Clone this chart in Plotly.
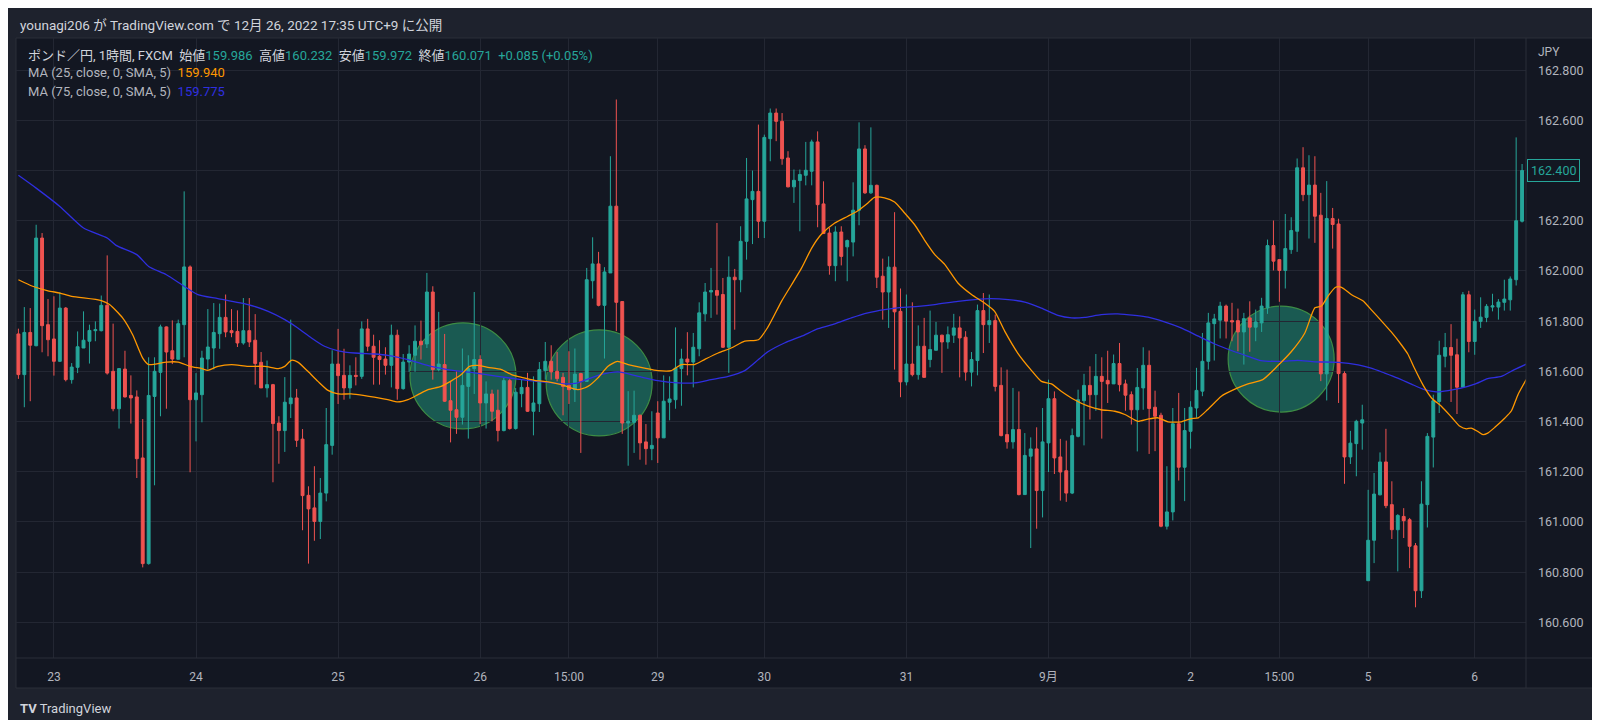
import plotly.graph_objects as go

# GBP/JPY 1h candles, Aug 22 18:00 -> Sep 6 08:00 (JST)
opens = [161.749, 161.587, 161.755, 161.702, 162.131, 161.786, 161.729, 161.640, 161.852, 161.567,
         161.616, 161.693, 161.720, 161.762, 161.762, 161.863, 161.600, 161.451, 161.609, 161.504,
         161.498, 161.255, 160.834, 161.500, 161.596, 161.777, 161.682, 161.648, 161.786, 162.016,
         161.487, 161.507, 161.649, 161.693, 161.750, 161.815, 161.762, 161.759, 161.713, 161.762,
         161.724, 161.636, 161.534, 161.547, 161.394, 161.364, 161.471, 161.494, 161.330, 161.106,
         161.056, 161.002, 161.115, 161.305, 161.629, 161.584, 161.534, 161.584, 161.580, 161.769,
         161.700, 161.660, 161.649, 161.624, 161.744, 161.531, 161.637, 161.664, 161.720, 161.709,
         161.916, 161.607, 161.627, 161.483, 161.447, 161.417, 161.540, 161.611, 161.647, 161.474,
         161.510, 161.445, 161.364, 161.563, 161.372, 161.511, 161.536, 161.441, 161.471, 161.603,
         161.640, 161.600, 161.576, 161.544, 161.527, 161.591, 161.560, 161.961, 162.028, 161.863,
         161.992, 162.258, 161.878, 161.394, 161.397, 161.425, 161.319, 161.292, 161.434, 161.335,
         161.477, 161.487, 161.611, 161.649, 161.637, 161.690, 161.829, 161.916, 161.922, 161.906,
         161.696, 161.975, 161.965, 162.118, 162.284, 162.317, 162.198, 162.527, 162.629, 162.596,
         162.450, 162.335, 162.360, 162.381, 162.397, 162.514, 162.267, 162.151, 162.021, 162.155,
         162.096, 162.115, 162.242, 162.486, 162.311, 162.341, 161.979, 161.916, 162.015, 161.839,
         161.558, 161.629, 161.587, 161.700, 161.647, 161.684, 161.744, 161.717, 161.744, 161.773,
         161.736, 161.597, 161.643, 161.842, 161.786, 161.802, 161.544, 161.348, 161.319, 161.368,
         161.109, 161.262, 161.291, 161.125, 161.315, 161.491, 161.259, 161.204, 161.115, 161.341,
         161.483, 161.544, 161.507, 161.580, 161.564, 161.550, 161.631, 161.550, 161.507, 161.447,
         161.534, 161.624, 161.457, 161.425, 160.983, 161.040, 161.391, 161.218, 161.361, 161.454,
         161.521, 161.640, 161.790, 161.804, 161.860, 161.802, 161.802, 161.757, 161.813, 161.776,
         161.793, 161.853, 162.101, 162.045, 162.002, 162.085, 162.158, 162.411, 162.304, 162.342,
         162.222, 161.590, 162.209, 162.187, 161.591, 161.259, 161.312, 161.394, 160.766, 160.927,
         161.108, 161.239, 161.069, 160.969, 161.022, 161.009, 160.905, 160.726, 161.069, 161.338,
         161.480, 161.660, 161.695, 161.666, 161.537, 161.905, 161.719, 161.799, 161.815, 161.856,
         161.856, 161.875, 161.885, 161.965, 162.198]
highs = [161.770, 161.856, 161.852, 162.184, 162.151, 161.888, 161.899, 161.915, 161.856, 161.633,
         161.759, 161.839, 161.786, 161.799, 161.902, 162.062, 161.790, 161.613, 161.682, 161.584,
         161.524, 161.410, 161.656, 161.656, 161.786, 161.779, 161.803, 161.806, 162.317, 162.022,
         161.593, 161.682, 161.848, 161.872, 161.870, 161.906, 161.848, 161.843, 161.892, 161.892,
         161.828, 161.677, 161.643, 161.550, 161.421, 161.577, 161.806, 161.530, 161.370, 161.142,
         161.222, 161.175, 161.454, 161.684, 161.769, 161.690, 161.624, 161.656, 161.799, 161.809,
         161.746, 161.724, 161.696, 161.786, 161.766, 161.669, 161.704, 161.783, 161.802, 161.992,
         161.939, 161.837, 161.749, 161.560, 161.600, 161.691, 161.664, 161.916, 161.664, 161.560,
         161.527, 161.527, 161.574, 161.571, 161.534, 161.567, 161.594, 161.580, 161.637, 161.717,
         161.704, 161.677, 161.594, 161.680, 161.691, 161.594, 162.012, 162.134, 162.076, 162.015,
         162.457, 162.683, 161.879, 161.521, 161.523, 161.428, 161.390, 161.441, 161.481, 161.584,
         161.580, 161.775, 161.690, 161.756, 161.753, 161.875, 161.952, 162.012, 162.191, 161.972,
         162.058, 162.008, 162.178, 162.450, 162.400, 162.583, 162.543, 162.647, 162.647, 162.629,
         162.477, 162.404, 162.404, 162.514, 162.523, 162.556, 162.357, 162.171, 162.178, 162.178,
         162.125, 162.353, 162.592, 162.501, 162.572, 162.344, 162.049, 162.058, 162.234, 161.930,
         161.906, 161.875, 161.783, 161.813, 161.842, 161.797, 161.746, 161.779, 161.829, 161.819,
         161.760, 161.677, 161.866, 161.912, 161.906, 161.826, 161.616, 161.607, 161.534, 161.520,
         161.354, 161.337, 161.377, 161.454, 161.567, 161.520, 161.331, 161.324, 161.372, 161.527,
         161.590, 161.620, 161.669, 161.656, 161.682, 161.667, 161.713, 161.567, 161.520, 161.613,
         161.696, 161.683, 161.523, 161.435, 161.222, 161.454, 161.514, 161.454, 161.481, 161.614,
         161.753, 161.833, 161.829, 161.877, 161.866, 161.873, 161.850, 161.833, 161.879, 161.846,
         161.893, 162.125, 162.201, 162.045, 162.227, 162.214, 162.448, 162.493, 162.461, 162.457,
         162.311, 162.358, 162.251, 162.208, 161.600, 161.363, 161.407, 161.467, 161.128, 161.195,
         161.277, 161.371, 161.162, 161.031, 161.055, 161.016, 160.916, 161.162, 161.354, 161.507,
         161.722, 161.753, 161.788, 161.730, 161.916, 161.921, 161.846, 161.895, 161.868, 161.909,
         161.888, 161.965, 161.978, 162.532, 162.426]
lows = [161.570, 161.457, 161.481, 161.700, 161.676, 161.660, 161.583, 161.637, 161.560, 161.551,
        161.593, 161.693, 161.631, 161.720, 161.759, 161.587, 161.441, 161.372, 161.496, 161.392,
        161.175, 160.819, 160.830, 161.146, 161.421, 161.451, 161.629, 161.648, 161.656, 161.198,
        161.321, 161.397, 161.607, 161.608, 161.690, 161.736, 161.736, 161.697, 161.706, 161.697,
        161.547, 161.534, 161.496, 161.158, 161.232, 161.279, 161.414, 161.299, 160.967, 160.834,
        160.925, 160.932, 161.082, 161.268, 161.470, 161.487, 161.491, 161.544, 161.570, 161.680,
        161.547, 161.547, 161.587, 161.536, 161.487, 161.527, 161.598, 161.598, 161.647, 161.693,
        161.567, 161.600, 161.478, 161.317, 161.351, 161.388, 161.332, 161.510, 161.390, 161.372,
        161.401, 161.321, 161.361, 161.368, 161.368, 161.457, 161.438, 161.345, 161.438, 161.567,
        161.567, 161.560, 161.425, 161.470, 161.478, 161.275, 161.560, 161.890, 161.859, 161.651,
        161.992, 161.760, 161.351, 161.224, 161.275, 161.248, 161.228, 161.246, 161.235, 161.335,
        161.405, 161.451, 161.463, 161.584, 161.536, 161.660, 161.799, 161.813, 161.826, 161.693,
        161.594, 161.766, 161.915, 162.045, 162.107, 162.131, 162.131, 162.437, 162.517, 162.423,
        162.333, 162.271, 162.158, 162.341, 162.341, 162.174, 162.147, 161.985, 161.959, 162.022,
        161.959, 162.058, 162.182, 162.307, 162.307, 161.932, 161.806, 161.773, 161.607, 161.497,
        161.544, 161.580, 161.567, 161.576, 161.616, 161.684, 161.594, 161.690, 161.713, 161.576,
        161.563, 161.540, 161.584, 161.673, 161.713, 161.520, 161.341, 161.292, 161.292, 161.106,
        161.109, 160.896, 160.973, 161.018, 161.199, 161.191, 161.085, 161.080, 161.111, 161.337,
        161.305, 161.408, 161.443, 161.332, 161.474, 161.550, 161.520, 161.443, 161.388, 161.281,
        161.447, 161.271, 161.282, 160.979, 160.970, 161.006, 161.165, 161.083, 161.292, 161.415,
        161.501, 161.607, 161.643, 161.731, 161.731, 161.720, 161.680, 161.627, 161.678, 161.720,
        161.757, 161.829, 162.002, 161.877, 161.930, 162.068, 162.076, 162.278, 162.129, 162.112,
        161.561, 161.484, 162.089, 161.474, 161.152, 161.231, 161.182, 161.288, 160.766, 160.836,
        161.106, 161.055, 160.932, 160.803, 160.936, 160.816, 160.660, 160.697, 160.978, 161.217,
        161.434, 161.616, 161.478, 161.430, 161.536, 161.676, 161.666, 161.773, 161.796, 161.839,
        161.806, 161.842, 161.842, 161.942, 162.193]
closes = [161.587, 161.755, 161.704, 162.131, 161.782, 161.726, 161.640, 161.852, 161.567, 161.617,
          161.698, 161.724, 161.763, 161.766, 161.863, 161.593, 161.451, 161.611, 161.498, 161.494,
          161.252, 160.834, 161.504, 161.600, 161.777, 161.677, 161.649, 161.790, 162.016, 161.487,
          161.514, 161.653, 161.697, 161.755, 161.815, 161.757, 161.754, 161.713, 161.762, 161.717,
          161.631, 161.534, 161.547, 161.392, 161.364, 161.477, 161.494, 161.325, 161.105, 161.052,
          161.002, 161.115, 161.308, 161.629, 161.583, 161.534, 161.584, 161.580, 161.769, 161.700,
          161.656, 161.647, 161.624, 161.744, 161.531, 161.637, 161.669, 161.720, 161.706, 161.916,
          161.607, 161.629, 161.481, 161.445, 161.417, 161.544, 161.611, 161.647, 161.474, 161.510,
          161.441, 161.364, 161.563, 161.372, 161.517, 161.536, 161.441, 161.474, 161.607, 161.640,
          161.598, 161.571, 161.540, 161.527, 161.589, 161.560, 161.965, 162.028, 161.863, 161.996,
          162.258, 161.875, 161.394, 161.401, 161.425, 161.315, 161.292, 161.305, 161.335, 161.481,
          161.490, 161.613, 161.649, 161.637, 161.696, 161.833, 161.916, 161.922, 161.903, 161.696,
          161.975, 161.965, 162.118, 162.287, 162.317, 162.198, 162.532, 162.629, 162.596, 162.447,
          162.335, 162.361, 162.384, 162.401, 162.514, 162.264, 162.149, 162.021, 162.155, 162.058,
          162.121, 162.242, 162.486, 162.311, 162.341, 161.975, 161.916, 162.015, 161.837, 161.558,
          161.629, 161.587, 161.700, 161.576, 161.687, 161.744, 161.717, 161.746, 161.773, 161.733,
          161.597, 161.647, 161.842, 161.786, 161.802, 161.540, 161.344, 161.319, 161.368, 161.109,
          161.265, 161.291, 161.125, 161.319, 161.491, 161.255, 161.199, 161.115, 161.344, 161.487,
          161.544, 161.507, 161.580, 161.560, 161.550, 161.631, 161.547, 161.505, 161.447, 161.536,
          161.624, 161.452, 161.421, 160.983, 161.040, 161.391, 161.218, 161.364, 161.457, 161.524,
          161.640, 161.793, 161.809, 161.860, 161.800, 161.797, 161.757, 161.810, 161.776, 161.797,
          161.860, 162.101, 162.039, 162.002, 162.089, 162.161, 162.411, 162.304, 162.342, 162.218,
          161.590, 162.209, 162.185, 161.591, 161.259, 161.314, 161.401, 161.407, 160.927, 161.111,
          161.239, 161.065, 160.969, 161.026, 161.005, 160.903, 160.726, 161.071, 161.341, 161.483,
          161.664, 161.695, 161.664, 161.537, 161.905, 161.719, 161.799, 161.816, 161.859, 161.861,
          161.876, 161.888, 161.968, 162.200, 162.400]

# moving averages, sampled along the curves (candle index, price)
ma25_idx = [0, 2.4, 5, 7, 9, 14, 15.4, 17.6, 19.3, 21, 22, 25, 27, 29, 31, 32, 33.7, 36, 38.8, 41.6,
            43.9, 45, 46.1, 47.2, 48.9, 50.6, 52.3, 54, 56.2, 58.5, 60.8, 62.4, 64.1, 65.8, 67.5, 69.2,
            71.4, 73, 74.8, 76.2, 77.6, 79.3, 81.6, 83.3, 85, 87.2, 89.5, 91.7, 94.5, 96.2, 97.9, 99.6,
            101.2, 103, 105.8, 108, 110.3, 112, 114.2, 115.9, 118.2, 120.4, 122.7, 125, 126.6, 128.9,
            130.6, 132.3, 134, 135.6, 137.9, 140.1, 141.8, 143.5, 144.6, 146.3, 148, 149.7, 151.4, 153,
            154.8, 156.5, 158.7, 161, 163.2, 164.9, 166.6, 168.8, 171, 172.8, 174.5, 176.2, 178.4,
            180.7, 182.9, 185.2, 186.9, 189.1, 190.8, 192.5, 194.2, 196.4, 198.1, 199.3, 200.9, 203.2,
            205.4, 207.7, 210.2, 212.8, 215, 217.3, 219, 220.1, 221.2, 222.5, 223.5, 225.2, 227.1,
            228.5, 230.2, 231.9, 233.6, 234.7, 235.8, 237.3, 238.7, 240.4, 242.1, 243.5, 244.6, 245.4,
            246.5, 247.4, 248.2, 249.4, 251.1, 252.2, 253.3, 254.7]
ma25_val = [161.965, 161.939, 161.921, 161.912, 161.899, 161.882, 161.866, 161.813, 161.746, 161.653,
            161.627, 161.637, 161.637, 161.620, 161.611, 161.604, 161.620, 161.627, 161.620, 161.620,
            161.611, 161.620, 161.644, 161.637, 161.600, 161.560, 161.524, 161.510, 161.510, 161.503,
            161.494, 161.487, 161.478, 161.487, 161.507, 161.527, 161.540, 161.560, 161.587, 161.620,
            161.624, 161.616, 161.607, 161.587, 161.576, 161.564, 161.558, 161.547, 161.527, 161.540,
            161.574, 161.620, 161.640, 161.627, 161.613, 161.603, 161.603, 161.627, 161.627, 161.647,
            161.673, 161.693, 161.720, 161.726, 161.776, 161.879, 161.945, 162.012, 162.091, 162.145,
            162.191, 162.218, 162.240, 162.271, 162.293, 162.291, 162.275, 162.231, 162.184, 162.125,
            162.065, 162.025, 161.952, 161.906, 161.872, 161.839, 161.760, 161.673, 161.607, 161.560,
            161.550, 161.520, 161.487, 161.461, 161.447, 161.441, 161.428, 161.401, 161.410, 161.415,
            161.399, 161.399, 161.412, 161.415, 161.448, 161.501, 161.528, 161.550, 161.567, 161.624,
            161.678, 161.753, 161.853, 161.860, 161.899, 161.935, 161.935, 161.905, 161.881, 161.846,
            161.802, 161.757, 161.706, 161.669, 161.613, 161.544, 161.494, 161.460, 161.417, 161.381,
            161.371, 161.374, 161.361, 161.348, 161.354, 161.377, 161.414, 161.443, 161.507, 161.567]
ma75_idx = [0, 3, 7, 11, 15, 16.5, 20, 22, 25, 28, 30.3, 33.7, 38.8, 42.2, 45, 47.2, 49.5, 51.7, 54,
            56.8, 60.2, 62.4, 65.8, 69.7, 73.7, 77, 81, 85, 88.3, 92.3, 94.5, 97.9, 101.3, 104.7, 108,
            111.4, 114.2, 117, 119.9, 122.7, 125, 126.6, 129.4, 132.3, 135.1, 137.9, 140.7, 143.5,
            146.3, 149.2, 152, 154.8, 158.7, 161.5, 164.3, 167.2, 170, 172.8, 175.6, 177.9, 180.1,
            182.9, 185.7, 188.6, 190.8, 193.6, 196.4, 199.3, 202.1, 204.9, 207.7, 209.9, 213.3, 216.1,
            219, 223, 226.3, 228.5, 230.8, 233, 235.3, 237.5, 239.5, 241.5, 243.7, 246, 248.2, 250.5,
            252.7, 254.7]
ma75_val = [162.381, 162.330, 162.257, 162.171, 162.131, 162.102, 162.065, 162.018, 161.985, 161.939,
            161.906, 161.890, 161.866, 161.839, 161.806, 161.773, 161.733, 161.700, 161.682, 161.673,
            161.669, 161.664, 161.647, 161.620, 161.603, 161.594, 161.580, 161.567, 161.558, 161.550,
            161.554, 161.584, 161.598, 161.580, 161.563, 161.554, 161.554, 161.567, 161.580, 161.603,
            161.647, 161.678, 161.713, 161.740, 161.770, 161.789, 161.813, 161.833, 161.846, 161.855,
            161.859, 161.866, 161.879, 161.886, 161.890, 161.886, 161.876, 161.852, 161.823, 161.813,
            161.815, 161.826, 161.829, 161.823, 161.816, 161.797, 161.773, 161.740, 161.709, 161.683,
            161.660, 161.643, 161.640, 161.644, 161.638, 161.636, 161.626, 161.613, 161.593, 161.573,
            161.549, 161.527, 161.518, 161.523, 161.533, 161.549, 161.571, 161.580, 161.607, 161.629]

# highlighted crossovers drawn by the author (candle index, price)
circle_idx = [75.1, 98.1, 213.3]
circle_price = [161.582, 161.554, 161.649]

time_tick_idx = [6, 30, 54, 78, 93, 108, 126, 150, 174, 198, 213, 228, 246]
time_tick_text = ['23', '24', '25', '26', '15:00', '29', '30', '31', '9月', '2', '15:00', '5', '6']
price_ticks = [160.6, 160.8, 161.0, 161.2, 161.4, 161.6, 161.8, 162.0, 162.2, 162.4, 162.6, 162.8]

UP = '#26a69a'
DOWN = '#ef5350'
ORANGE = '#ff9800'
BLUE = '#2f2fe0'
PANE = '#131722'
OUTER = '#1e222d'
GRID = '#232733'
BORDER = '#2a2e39'
TXT = '#b2b5be'
FONT = "Roboto, 'Noto Sans CJK JP', sans-serif"


def px(x):
    return (x - 8) / 1510


def py(y):
    return (650 - y) / 620


# the last-price box hides the axis label it sits on
last = closes[-1]
price_text = ['' if abs(v - last) < 0.05 else f"{v:.3f}" for v in price_ticks]

fig = go.Figure()
fig.add_trace(go.Candlestick(
    x=list(range(len(opens))), open=opens, high=highs, low=lows, close=closes,
    increasing=dict(line=dict(color=UP, width=1), fillcolor=UP),
    decreasing=dict(line=dict(color=DOWN, width=1), fillcolor=DOWN),
    whiskerwidth=0, hoverinfo='skip', showlegend=False))
fig.add_trace(go.Scatter(x=ma75_idx, y=ma75_val, mode='lines',
                         line=dict(color=BLUE, width=1.3, shape='spline', smoothing=0.6),
                         hoverinfo='skip', showlegend=False))
fig.add_trace(go.Scatter(x=ma25_idx, y=ma25_val, mode='lines',
                         line=dict(color=ORANGE, width=1.3, shape='spline', smoothing=0.6),
                         hoverinfo='skip', showlegend=False))

shapes = [
    # chart frame incl. axis strips
    dict(type='rect', xref='paper', yref='paper', x0=px(8), x1=px(1588), y0=py(680), y1=py(30),
         fillcolor=PANE, line=dict(color=BORDER, width=1), layer='below'),
    dict(type='line', xref='paper', yref='paper', x0=1, x1=1, y0=py(680), y1=py(30),
         line=dict(color=BORDER, width=1)),
    dict(type='line', xref='paper', yref='paper', x0=px(8), x1=px(1588), y0=0, y1=0,
         line=dict(color=BORDER, width=1)),
]
for ci, cp in zip(circle_idx, circle_price):
    shapes.append(dict(type='circle', xref='x', yref='y', xsizemode='pixel', ysizemode='pixel',
                       xanchor=ci, yanchor=cp, x0=-53, x1=53, y0=-53, y1=53,
                       fillcolor='rgba(33,157,130,0.5)', line=dict(color='#3d8c45', width=1.2),
                       layer='below'))

sp = '\u00a0\u00a0'
lbl = "<span style='color:#d1d4dc'>"
val = "<span style='color:%s'>" % UP
line1 = (lbl + "ポンド／円, 1時間, FXCM" + sp + "始値</span>" + val + "159.986</span>"
         + lbl + sp + "高値</span>" + val + "160.232</span>"
         + lbl + sp + "安値</span>" + val + "159.972</span>"
         + lbl + sp + "終値</span>" + val + "160.071" + sp + "+0.085 (+0.05%)</span>")
line2 = "MA (25, close, 0, SMA, 5)" + sp + "<span style='color:%s'>159.940</span>" % ORANGE
line3 = "MA (75, close, 0, SMA, 5)" + sp + "<span style='color:%s'>159.775</span>" % BLUE

annotations = [
    dict(text="younagi206 が TradingView.com で 12月 26, 2022 17:35 UTC+9 に公開",
         x=px(10), y=py(17), font=dict(size=13.5, color='#d1d4dc')),
    dict(text=line1, x=px(18), y=py(47), font=dict(size=13, color=TXT)),
    dict(text=line2, x=px(18), y=py(65), font=dict(size=13, color=TXT)),
    dict(text=line3, x=px(18), y=py(84), font=dict(size=13, color=TXT)),
    dict(text="JPY", x=px(1528), y=py(44), font=dict(size=12, color=TXT)),
    dict(text="<b>TV</b> TradingView", x=px(10), y=py(700), font=dict(size=13, color='#d1d4dc')),
]
for a in annotations:
    a.update(xref='paper', yref='paper', xanchor='left', yanchor='middle', showarrow=False)

annotations.append(dict(text=f"{last:.3f}", xref='paper', yref='y', x=1, y=last,
                        xanchor='left', yanchor='middle', xshift=1, showarrow=False,
                        font=dict(size=12.5, color=UP), bgcolor=PANE, bordercolor=UP,
                        borderwidth=1, borderpad=3))

fig.update_layout(
    width=1600, height=720,
    margin=dict(l=8, r=82, t=30, b=70),
    paper_bgcolor=OUTER, plot_bgcolor=PANE,
    font=dict(family=FONT, color=TXT, size=12),
    shapes=shapes, annotations=annotations,
    showlegend=False,
    xaxis=dict(range=[-0.405, 254.66], tickvals=time_tick_idx, ticktext=time_tick_text,
               showgrid=True, gridcolor=GRID, gridwidth=1, zeroline=False, ticks='',
               ticklabelstandoff=10, rangeslider=dict(visible=False), fixedrange=True,
               tickfont=dict(size=12, color=TXT)),
    yaxis=dict(side='right', range=[160.458, 162.928], tickvals=price_ticks, ticktext=price_text,
               showgrid=True, gridcolor=GRID, gridwidth=1, zeroline=False, ticks='',
               ticklabelstandoff=11, fixedrange=True, tickfont=dict(size=12.5, color=TXT)),
)

fig.write_html("out.html")
